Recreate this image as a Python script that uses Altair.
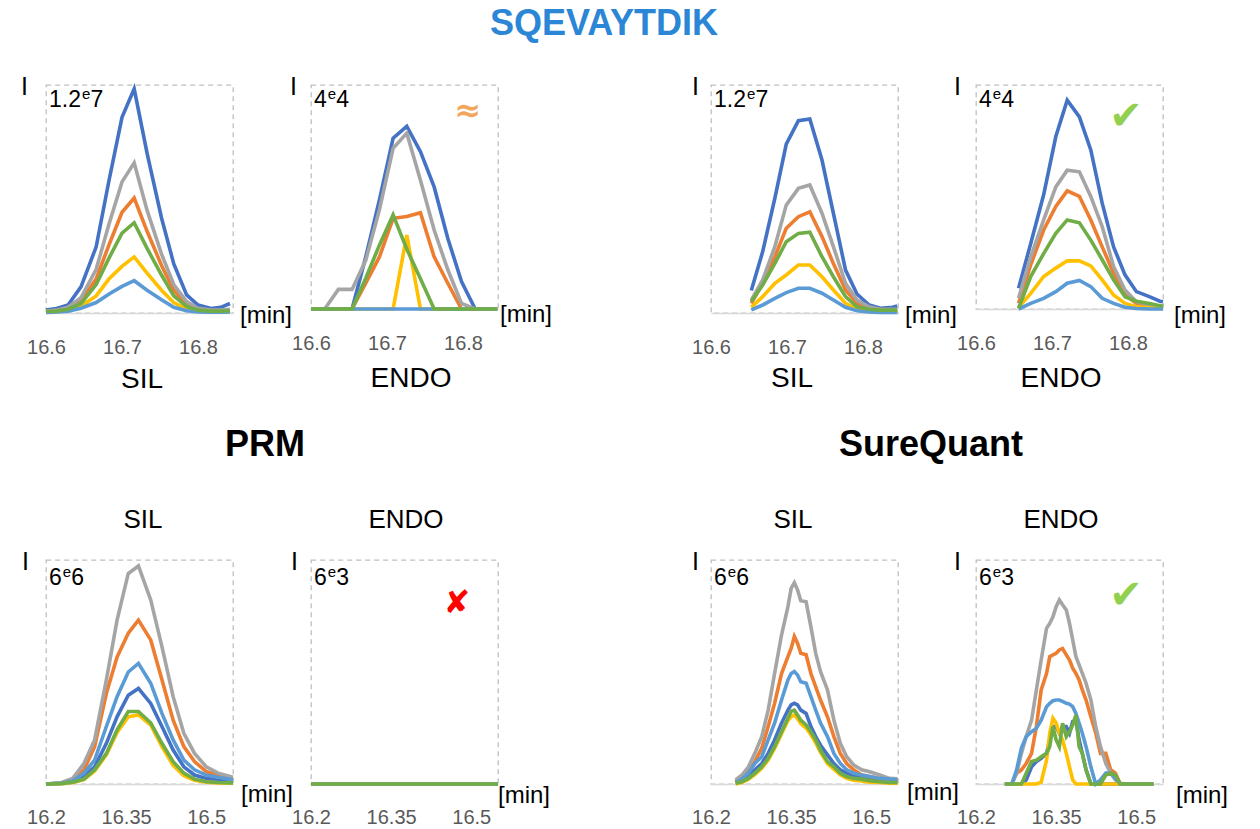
import altair as alt
import pandas as pd

SERIES = ["blue", "orange", "gray", "yellow", "lightblue", "green"]
COLORS = ["#4472C4", "#ED7D31", "#A5A5A5", "#FFC000", "#5B9BD5", "#70AD47"]

# ---------- PRM top-left: SIL (x 1e6) ----------
P1_T = [16.600, 16.614, 16.629, 16.646, 16.666, 16.683, 16.700, 16.716, 16.733, 16.752, 16.768, 16.785, 16.800, 16.817, 16.830, 16.842]
P1 = {
    "blue":      [0.16, 0.24, 0.42, 1.38, 3.48, 7.0, 10.3, 11.8, 8.4, 5.0, 2.6, 0.95, 0.42, 0.24, 0.3, 0.5],
    "orange":    [0.1, 0.12, 0.25, 0.6, 1.8, 3.6, 5.3, 6.05, 4.3, 2.5, 1.2, 0.45, 0.2, 0.12, 0.12, 0.15],
    "gray":      [0.1, 0.15, 0.3, 0.8, 2.3, 4.7, 6.9, 7.9, 5.4, 3.1, 1.5, 0.6, 0.25, 0.15, 0.15, 0.2],
    "yellow":    [0.05, 0.07, 0.15, 0.35, 0.9, 1.8, 2.45, 2.95, 2.1, 1.2, 0.55, 0.2, 0.1, 0.07, 0.07, 0.08],
    "lightblue": [0.03, 0.05, 0.1, 0.25, 0.55, 1.0, 1.4, 1.7, 1.2, 0.7, 0.3, 0.12, 0.06, 0.04, 0.04, 0.05],
    "green":     [0.08, 0.1, 0.2, 0.5, 1.5, 2.9, 4.2, 4.75, 3.4, 2.0, 0.9, 0.35, 0.15, 0.1, 0.1, 0.12],
}

# ---------- PRM top: ENDO (x 1e4) ----------
P2_T = [16.600, 16.618, 16.636, 16.654, 16.672, 16.690, 16.708, 16.726, 16.744, 16.762, 16.780, 16.798, 16.816, 16.834, 16.845]
P2 = {
    "blue":      [0, 0, 0, 0, 0.93, 1.95, 3.05, 3.26, 2.81, 2.18, 1.26, 0.49, 0, 0, 0],
    "orange":    [0, 0, 0, 0, 0.46, 0.93, 1.62, 1.65, 1.72, 0.93, 0.46, 0, 0, 0, 0],
    "gray":      [0, 0, 0.35, 0.35, 0.87, 1.77, 2.87, 3.14, 2.3, 1.41, 0.7, 0.1, 0, 0, 0],
    "yellow":    [0, 0, 0, 0, 0, 0, 0, 1.32, 0, 0, 0, 0, 0, 0, 0],
    "lightblue": [0, 0, 0, 0, 0, 0, 0, 0, 0, 0, 0, 0, 0, 0, 0],
    "green":     [0, 0, 0, 0, 0.55, 1.14, 1.68, 1.07, 0.54, 0, 0, 0, 0, 0, 0],
}

# ---------- SureQuant top: SIL (x 1e6) ----------
P3_T = [16.653, 16.668, 16.684, 16.699, 16.715, 16.730, 16.746, 16.761, 16.777, 16.792, 16.808, 16.823, 16.839, 16.845]
P3 = {
    "blue":      [1.18, 3.23, 6.04, 8.89, 10.12, 10.21, 8.05, 5.25, 2.26, 1.0, 0.42, 0.25, 0.3, 0.37],
    "orange":    [0.51, 1.56, 2.96, 4.46, 5.07, 5.33, 4.02, 2.61, 1.21, 0.51, 0.25, 0.15, 0.15, 0.15],
    "gray":      [0.68, 1.74, 3.49, 5.68, 6.56, 6.74, 5.25, 3.49, 1.56, 0.68, 0.33, 0.2, 0.2, 0.2],
    "yellow":    [0.3, 0.86, 1.56, 2.0, 2.53, 2.53, 1.91, 1.21, 0.51, 0.19, 0.1, 0.05, 0.05, 0.05],
    "lightblue": [0.16, 0.42, 0.77, 1.07, 1.3, 1.3, 1.04, 0.68, 0.3, 0.12, 0.05, 0.03, 0.03, 0.03],
    "green":     [0.6, 1.47, 2.61, 3.75, 4.19, 4.25, 2.96, 1.91, 0.86, 0.33, 0.2, 0.15, 0.15, 0.15],
}

# ---------- SureQuant top: ENDO (x 1e4) ----------
P4_T = [16.656, 16.672, 16.689, 16.705, 16.720, 16.736, 16.751, 16.766, 16.781, 16.796, 16.811, 16.828, 16.842, 16.846]
P4 = {
    "blue":      [0.37, 1.17, 2.04, 3.08, 3.73, 3.43, 2.84, 1.89, 1.11, 0.61, 0.31, 0.22, 0.14, 0.13],
    "orange":    [0.1, 0.79, 1.41, 1.83, 2.11, 2.01, 1.59, 1.11, 0.64, 0.25, 0.1, 0.05, 0.03, 0.03],
    "gray":      [0.19, 0.93, 1.59, 2.18, 2.48, 2.45, 2.01, 1.47, 0.76, 0.34, 0.13, 0.07, 0.05, 0.04],
    "yellow":    [0.03, 0.28, 0.58, 0.73, 0.86, 0.86, 0.77, 0.52, 0.25, 0.1, 0.04, 0.02, 0.01, 0.01],
    "lightblue": [0, 0.1, 0.19, 0.31, 0.46, 0.51, 0.4, 0.19, 0.1, 0.03, 0.01, 0, 0, 0],
    "green":     [0.01, 0.58, 0.99, 1.35, 1.59, 1.54, 1.23, 0.88, 0.52, 0.22, 0.14, 0.1, 0.06, 0.05],
}

# ---------- PRM bottom: SIL (x 1e6) ----------
P5_T = [16.200, 16.229, 16.250, 16.271, 16.291, 16.313, 16.333, 16.354, 16.373, 16.396, 16.417, 16.438, 16.458, 16.478, 16.500, 16.522, 16.550]
P5 = {
    "blue":      [0, 0.02, 0.06, 0.2, 0.46, 1.09, 1.8, 2.38, 2.56, 2.16, 1.54, 0.91, 0.46, 0.24, 0.15, 0.1, 0.08],
    "orange":    [0, 0.02, 0.11, 0.38, 1.0, 2.43, 3.4, 4.04, 4.39, 3.86, 2.79, 1.71, 1.0, 0.6, 0.33, 0.24, 0.12],
    "gray":      [0, 0.04, 0.15, 0.55, 1.18, 2.79, 4.39, 5.64, 5.84, 4.93, 3.68, 2.34, 1.36, 0.82, 0.46, 0.29, 0.18],
    "yellow":    [0, 0.01, 0.04, 0.12, 0.35, 0.78, 1.38, 1.8, 1.85, 1.58, 1.0, 0.5, 0.22, 0.1, 0.05, 0.03, 0.02],
    "lightblue": [0, 0.02, 0.08, 0.29, 0.64, 1.54, 2.34, 3.0, 3.23, 2.7, 1.89, 1.18, 0.64, 0.38, 0.24, 0.18, 0.11],
    "green":     [0, 0.01, 0.05, 0.13, 0.38, 0.82, 1.45, 1.94, 1.94, 1.64, 1.09, 0.6, 0.29, 0.13, 0.06, 0.04, 0.03],
}

# ---------- PRM bottom: ENDO (x 1e3) ----------
P6_T = [16.200, 16.550]
P6 = {name: [0, 0] for name in SERIES}

# ---------- SureQuant bottom: SIL (x 1e6) ----------
P7_T = [16.246, 16.258, 16.270, 16.282, 16.295, 16.307, 16.319, 16.332, 16.344, 16.350, 16.356, 16.362, 16.368, 16.378,
        16.387, 16.396, 16.405, 16.418, 16.430, 16.442, 16.454, 16.467, 16.482, 16.497, 16.516, 16.534, 16.549]
P7 = {
    "blue":      [0.02, 0.09, 0.2, 0.38, 0.55, 0.82, 1.18, 1.63, 1.98, 2.12, 2.16, 2.12, 1.98, 1.89, 1.54, 1.27, 1.04, 0.78, 0.55, 0.38, 0.29, 0.21, 0.18, 0.13, 0.09, 0.07, 0.05],
    "orange":    [0.06, 0.18, 0.33, 0.6, 0.96, 1.54, 2.16, 2.96, 3.41, 3.63, 3.95, 3.77, 3.5, 3.46, 2.96, 2.6, 2.25, 1.8, 1.27, 0.82, 0.55, 0.38, 0.24, 0.2, 0.15, 0.11, 0.09],
    "gray":      [0.11, 0.24, 0.46, 0.82, 1.27, 1.98, 2.96, 3.99, 4.75, 5.24, 5.39, 5.2, 4.91, 4.88, 4.21, 3.5, 3.01, 2.52, 1.71, 1.09, 0.73, 0.51, 0.38, 0.33, 0.24, 0.15, 0.14],
    "yellow":    [0.0, 0.04, 0.13, 0.25, 0.42, 0.64, 0.95, 1.34, 1.7, 1.8, 1.85, 1.75, 1.62, 1.5, 1.32, 1.1, 0.85, 0.55, 0.4, 0.25, 0.15, 0.1, 0.08, 0.05, 0.04, 0.02, 0.02],
    "lightblue": [0.04, 0.13, 0.29, 0.55, 0.73, 1.18, 1.63, 2.25, 2.79, 2.96, 3.01, 2.92, 2.74, 2.7, 2.34, 1.98, 1.63, 1.27, 0.82, 0.55, 0.38, 0.29, 0.24, 0.2, 0.15, 0.13, 0.11],
    "green":     [0.02, 0.06, 0.15, 0.29, 0.46, 0.69, 1.0, 1.4, 1.76, 1.95, 1.98, 1.85, 1.71, 1.58, 1.4, 1.18, 0.91, 0.6, 0.46, 0.29, 0.2, 0.15, 0.13, 0.09, 0.06, 0.04, 0.04],
}

# ---------- SureQuant bottom: ENDO (x 1e3) ----------
P8_T = [16.254, 16.267, 16.276, 16.285, 16.294, 16.304, 16.313, 16.322, 16.332, 16.338, 16.344, 16.350, 16.356, 16.362, 16.369, 16.375,
        16.381, 16.387, 16.393, 16.399, 16.406, 16.415, 16.424, 16.433, 16.443, 16.452, 16.461, 16.470, 16.480, 16.492, 16.510, 16.532]
P8 = {
    "blue":      [0, 0, 0, 0, 0.11, 0.46, 0.6, 0.69, 0.82, 1.18, 1.54, 1.54, 1.36, 1.54, 1.54, 1.36, 1.67, 1.71, 1.18, 0.82, 0.38, 0, 0, 0, 0, 0, 0, 0, 0, 0, 0, 0],
    "orange":    [0, 0, 0.29, 0.38, 0.55, 0.82, 1.54, 2.52, 2.96, 3.41, 3.46, 3.5, 3.59, 3.63, 3.46, 3.32, 3.1, 2.96, 2.79, 2.52, 2.25, 1.8, 1.37, 0.82, 0.82, 0.38, 0.29, 0, 0, 0, 0, 0],
    "gray":      [0, 0, 0.29, 0.82, 1.27, 1.71, 2.52, 3.32, 4.17, 4.3, 4.48, 4.75, 4.93, 4.8, 4.66, 4.3, 3.86, 3.41, 3.19, 2.96, 2.7, 2.25, 1.54, 1.0, 0.55, 0.29, 0.11, 0.02, 0, 0, 0, 0],
    "yellow":    [0, 0, 0, 0, 0, 0, 0, 0.05, 0.64, 1.36, 1.76, 1.63, 1.36, 1.18, 0.82, 0.46, 0.11, 0, 0, 0, 0, 0, 0, 0, 0, 0, 0, 0, 0, 0, 0, 0],
    "lightblue": [0, 0, 0.38, 0.96, 1.27, 1.4, 1.49, 1.71, 2.07, 2.16, 2.23, 2.25, 2.25, 2.21, 2.16, 2.14, 2.07, 1.89, 1.63, 1.36, 1.0, 0.46, 0, 0.11, 0.29, 0.29, 0.15, 0, 0, 0, 0, 0],
    "green":     [0, 0, 0, 0, 0.29, 0.6, 0.64, 0.73, 0.82, 1.0, 1.54, 1.18, 1.0, 1.63, 1.27, 1.4, 1.58, 1.85, 1.0, 0.82, 0.38, 0, 0, 0, 0.24, 0.29, 0.24, 0, 0, 0, 0, 0],
}

TOP_TICKS = [16.6, 16.7, 16.8]
BOT_TICKS = [16.2, 16.35, 16.5]
TOP_DOMAIN = [16.6, 16.846]
BOT_DOMAIN = [16.2, 16.55]

FONT = "Liberation Sans"
W = 187


def make_df(times, series):
    rows = []
    for k, name in enumerate(SERIES):
        for t, v in zip(times, series[name]):
            rows.append({"t": t, "v": v, "s": name, "k": k})
    return pd.DataFrame(rows)


def txt(text, x, y, size, color="#000000", weight="normal", align="left",
        baseline="alphabetic", font=FONT):
    return alt.Chart(alt.Data(values=[{"label": text}])).mark_text(
        align=align, baseline=baseline, fontSize=size, color=color,
        fontWeight=weight, font=font
    ).encode(text="label:N", x=alt.value(x), y=alt.value(y))


def str_width(s, size):
    w = 0.0
    for ch in s:
        w += 0.278 if ch == "." else 0.556
    return w * size


def panel(times, series, xdom, xvals, ymax, h, mant, expo, i_dx, min_off, lab_pad,
          scale_base, extras):
    df = make_df(times, series)
    lines = alt.Chart(df).mark_line(strokeWidth=3.6).encode(
        x=alt.X("t:Q", scale=alt.Scale(domain=xdom, nice=False, zero=False),
                axis=alt.Axis(values=xvals, format=".4~g", title=None, grid=False,
                              ticks=False, tickSize=0, labelFontSize=20,
                              labelColor="#595959", labelFont=FONT,
                              labelPadding=lab_pad, labelBaseline="alphabetic",
                              labelFlush=False, labelOverlap=False,
                              domainColor="#D9D9D9", domainWidth=1.5)),
        y=alt.Y("v:Q", scale=alt.Scale(domain=[0, ymax], nice=False, zero=True), axis=None),
        color=alt.Color("s:N", scale=alt.Scale(domain=SERIES, range=COLORS), legend=None),
        order=alt.Order("t:Q"),
    )
    x0 = 3
    sup_x = x0 + str_width(mant, 23) + 1
    exp_x = sup_x + 8.5
    layers = [
        lines,
        txt("I", i_dx, 10, 25),
        txt(mant, x0, scale_base, 23),
        txt("e", sup_x, scale_base - 8, 15),
        txt(expo, exp_x, scale_base, 23),
        txt("[min]", W + min_off[0], h + min_off[1], 24),
    ] + extras
    return alt.layer(*layers).properties(width=W, height=h)


def spacer(w):
    return alt.Chart(alt.Data(values=[{"a": 1}])).mark_point(opacity=0).encode(
        x=alt.value(0), y=alt.value(0)
    ).properties(width=w, height=10, view=alt.ViewBackground(stroke="transparent"))


p1 = panel(P1_T, P1, TOP_DOMAIN, TOP_TICKS, 12, 228, "1.2", "7", -25, (7, 10), 40, 22, [
    txt("SIL", 96, 303, 28, align="center"),
    txt("SQEVAYTDIK", 558, -50, 36, color="#2B86D6", weight="bold", align="center"),
])
p2 = panel(P2_T, P2, TOP_DOMAIN, TOP_TICKS, 4, 224, "4", "4", -21, (2, 13), 40, 22, [
    txt("ENDO", 100, 302, 28, align="center"),
    txt("≈", 157, 26, 32, color="#F2A65A", weight="bold", align="center",
        baseline="middle", font="DejaVu Sans"),
])
p3 = panel(P3_T, P3, TOP_DOMAIN, TOP_TICKS, 12, 228, "1.2", "7", -19, (7, 10), 40, 22, [
    txt("SIL", 81, 302, 28, align="center"),
])
p4 = panel(P4_T, P4, TOP_DOMAIN, TOP_TICKS, 4, 224, "4", "4", -22, (11, 14), 40, 22, [
    txt("ENDO", 85, 302, 28, align="center"),
    txt("✔", 150, 32, 40, color="#92D050", align="center", baseline="middle",
        font="DejaVu Sans"),
])
p5 = panel(P5_T, P5, BOT_DOMAIN, BOT_TICKS, 6, 224, "6", "6", -24, (8, 18), 39, 25, [
    txt("SIL", 97, -32, 26, align="center"),
    txt("PRM", 219, -104, 36, weight="bold", align="center"),
])
p6 = panel(P6_T, P6, BOT_DOMAIN, BOT_TICKS, 6, 224, "6", "3", -20, (0, 19), 39, 25, [
    txt("ENDO", 95, -32, 26, align="center"),
    txt("✘", 146, 43, 32, color="#FF0000", align="center", baseline="middle",
        font="DejaVu Sans"),
])
p7 = panel(P7_T, P7, BOT_DOMAIN, BOT_TICKS, 6, 224, "6", "6", -19, (9, 16), 39, 25, [
    txt("SIL", 82, -32, 26, align="center"),
    txt("SureQuant", 220, -104, 36, weight="bold", align="center"),
])
p8 = panel(P8_T, P8, BOT_DOMAIN, BOT_TICKS, 6, 224, "6", "3", -22, (13, 19), 39, 25, [
    txt("ENDO", 85, -32, 26, align="center"),
    txt("✔", 150, 36, 40, color="#92D050", align="center", baseline="middle",
        font="DejaVu Sans"),
])

chart = alt.concat(
    p1, p2, spacer(57), p3, p4,
    p5, p6, spacer(57), p7, p8,
    columns=5,
    spacing={"row": 247, "column": 78},
    bounds="flush",
).properties(
    padding={"left": 20, "top": 5, "right": 5, "bottom": 5},
    background="white",
).configure_view(
    stroke="#BFBFBF", strokeDash=[5, 4], strokeWidth=1.3
)

chart.save("out.html", embed_options={"renderer": "svg", "actions": False})
